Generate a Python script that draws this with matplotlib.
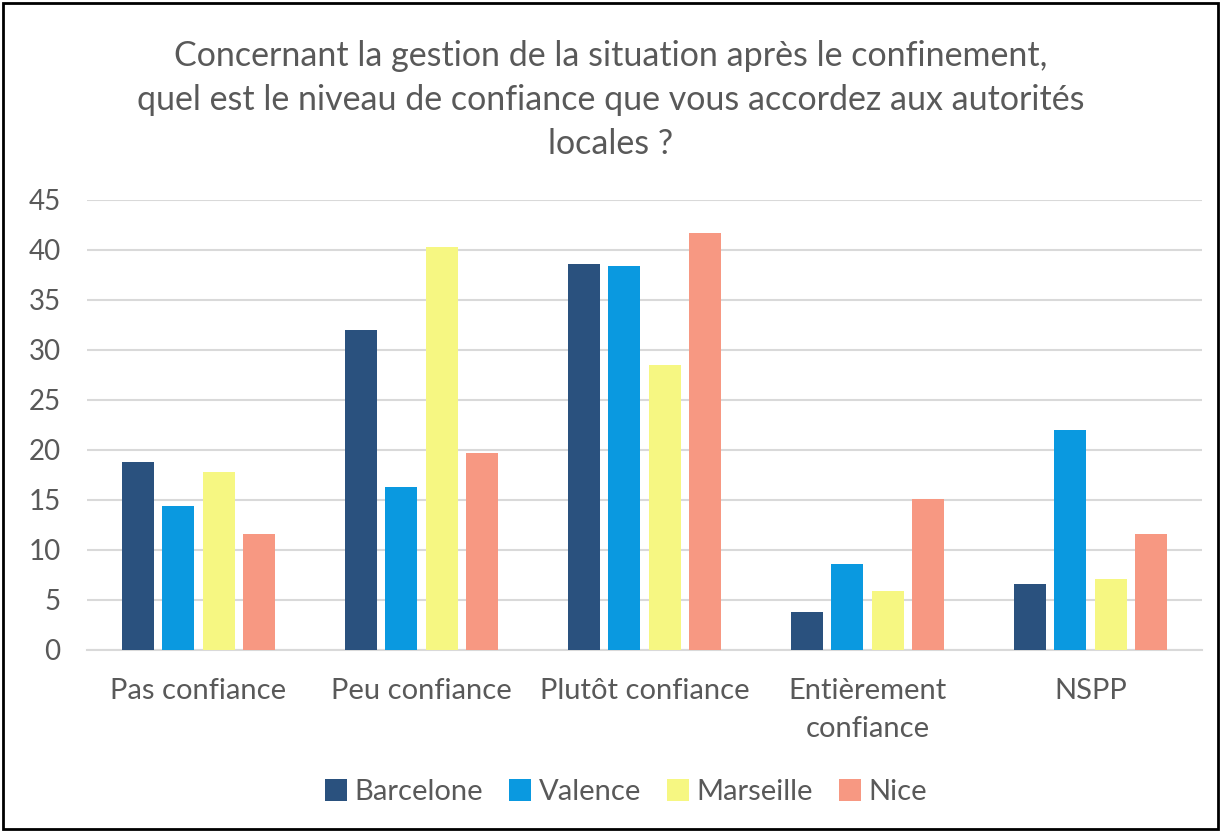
import numpy as np
import matplotlib
import matplotlib.pyplot as plt
from matplotlib.patches import Rectangle

matplotlib.use('Agg')

# Données
categories = ["Pas confiance", "Peu confiance", "Plutôt confiance",
              "Entièrement\nconfiance", "NSPP"]
villes = ["Barcelone", "Valence", "Marseille", "Nice"]
barcelone = [18.8, 32.0, 38.6, 3.8, 6.6]
valence = [14.4, 16.3, 38.4, 8.6, 22.0]
marseille = [17.8, 40.3, 28.5, 5.9, 7.1]
nice = [11.6, 19.7, 41.7, 15.1, 11.6]
couleurs = ["#2A517E", "#0A99E0", "#F6F782", "#F79882"]

plt.rcParams['font.family'] = ['Lato', 'DejaVu Sans']
gris = "#595959"

fig = plt.figure(figsize=(12.22, 8.31), dpi=100)
ax = fig.add_axes([87/1222, 1 - 650/831, 1115/1222, 450/831])

x = np.arange(len(categories))
largeur = 0.144
pas = 0.18
series = [barcelone, valence, marseille, nice]
for i, (nom, vals, c) in enumerate(zip(villes, series, couleurs)):
    ax.bar(x + (i - 1.5) * pas, vals, width=largeur, color=c, label=nom, zorder=3)

ax.set_xlim(-0.5, len(categories) - 0.5)
ax.set_ylim(0, 45)
ax.set_yticks(range(0, 46, 5))
ax.set_xticks(x)
ax.set_xticklabels(categories, fontsize=21, color=gris, linespacing=1.6)
ax.tick_params(axis='y', labelsize=20, labelcolor=gris, length=0, pad=19)
ax.tick_params(axis='x', length=0, pad=20)
ax.grid(axis='y', color="#D9D9D9", linewidth=1.5, zorder=0)
for s in ['top', 'right', 'left']:
    ax.spines[s].set_visible(False)
ax.spines['bottom'].set_color("#D9D9D9")
ax.spines['bottom'].set_linewidth(1.5)

fig.text(0.5, 1 - 100/831,
         "Concernant la gestion de la situation après le confinement,\n"
         "quel est le niveau de confiance que vous accordez aux autorités\n"
         "locales ?",
         ha='center', va='center', fontsize=24.5, color=gris, linespacing=1.45)

fig.legend(loc='center', bbox_to_anchor=(626/1222, 1 - 792/831), ncol=4,
           frameon=False, fontsize=21, labelcolor=gris,
           handlelength=0.75, handleheight=0.75, handletextpad=0.25,
           columnspacing=0.9)

fig.patches.append(Rectangle((3/1222, 2/831), 1215/1222, 826/831,
                             transform=fig.transFigure, fill=False,
                             edgecolor='black', linewidth=2))

fig.savefig("out.png", dpi=100)
